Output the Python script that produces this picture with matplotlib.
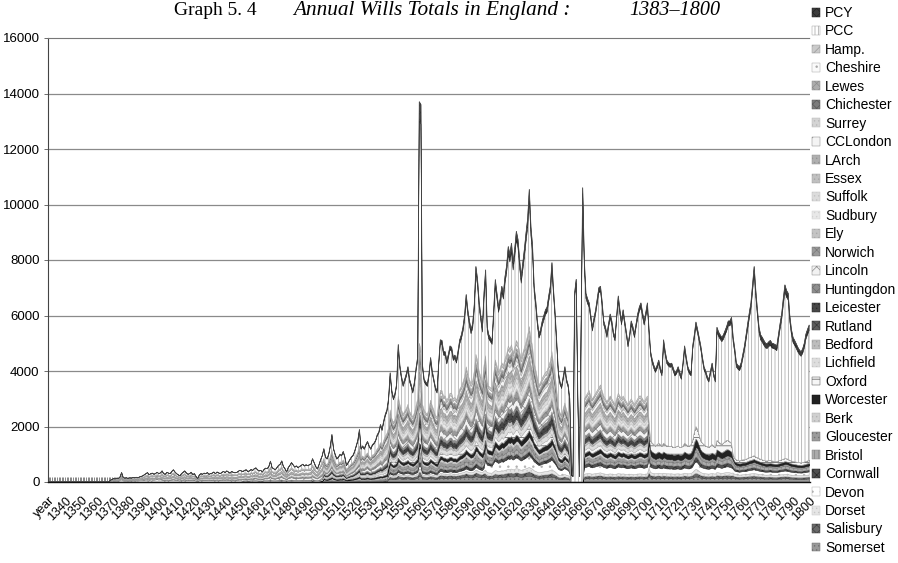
import numpy as np
import matplotlib
matplotlib.use("Agg")
import matplotlib.pyplot as plt

# ---------------- data (read / estimated from the reference) ----------------
YEARS = list(range(1331, 1801))
CATEGORIES = ["year"] + [str(y) for y in YEARS]

# Annual total of wills (top of the stack), 1331-1800, ten years per row
TOTAL = [
    0, 0, 0, 0, 0, 0, 0, 0, 0, 0,
    0, 0, 0, 0, 0, 0, 0, 0, 0, 0,
    0, 0, 0, 0, 0, 0, 0, 0, 0, 0,
    0, 0, 0, 0, 0, 0, 0, 60, 90, 120,
    110, 140, 120, 180, 340, 160, 140, 150, 130, 150,
    140, 160, 150, 170, 150, 180, 200, 220, 260, 300,
    340, 260, 300, 320, 280, 310, 350, 300, 330, 400,
    300, 280, 350, 320, 300, 380, 440, 360, 300, 260,
    220, 300, 350, 400, 330, 280, 300, 350, 270, 300,
    200, 120, 250, 300, 280, 320, 300, 340, 280, 300,
    320, 360, 300, 360, 330, 300, 350, 380, 340, 400,
    360, 320, 380, 350, 340, 340, 380, 420, 400, 380,
    420, 440, 380, 400, 450, 420, 480, 510, 440, 400,
    420, 360, 450, 500, 480, 560, 750, 520, 480, 440,
    520, 600, 640, 760, 560, 480, 360, 520, 600, 700,
    620, 540, 580, 520, 560, 600, 640, 580, 620, 590,
    620, 640, 840, 700, 560, 470, 620, 800, 950, 1200,
    900, 840, 1000, 1300, 1710, 1200, 1000, 840, 900, 1000,
    960, 1100, 900, 600, 700, 800, 900, 960, 1100, 1300,
    1500, 1890, 1200, 1300, 1200, 1350, 1460, 1300, 1200, 1340,
    1400, 1500, 1700, 1800, 2070, 1900, 2200, 2440, 2600, 3000,
    3930, 3300, 3030, 3200, 3530, 4950, 4200, 3800, 3530, 3700,
    3900, 4150, 3700, 3500, 3280, 3600, 4100, 4500, 13700, 13600,
    4200, 3700, 3600, 3530, 3900, 4480, 4000, 3700, 3400, 3280,
    4300, 5120, 5100, 4700, 4690, 4370, 4600, 4900, 4850, 4500,
    4570, 4400, 4730, 5120, 5300, 5570, 6000, 6750, 6200, 5800,
    5500, 5700, 6400, 7760, 7300, 6500, 6000, 5560, 6800, 7640,
    5570, 5300, 5200, 5100, 6200, 7290, 6800, 6300, 6600, 7050,
    6800, 7400, 7800, 8480, 8200, 8600, 7900, 8400, 9030, 8740,
    8000, 7400, 7900, 8400, 8980, 9500, 10540, 9200, 8500, 7050,
    6500, 5800, 5330, 5500, 5800, 6000, 6200, 6300, 6700, 7050,
    7900, 6900, 6050, 5000, 3930, 3600, 3450, 3800, 4150, 3700,
    3500, 3000, 800, 200, 6800, 7300, 3000, 200, 5500, 10600,
    8000, 6800, 6600, 6450, 6000, 5570, 5900, 6200, 6600, 7000,
    7050, 6500, 5800, 5600, 5330, 5700, 6050, 5800, 5400, 5210,
    6000, 6700, 6200, 5800, 6200, 5800, 5400, 4980, 5300, 5800,
    5600, 5330, 5700, 6050, 6300, 6450, 6100, 5800, 6100, 6450,
    5500, 4690, 4400, 4200, 4060, 4200, 4390, 4100, 3930, 5120,
    4700, 4390, 4300, 4250, 4280, 4100, 3930, 4000, 4150, 3950,
    3800, 4300, 4900, 4500, 4150, 4000, 3930, 4900, 5300, 5760,
    5500, 5200, 4900, 4500, 4150, 4000, 3800, 3700, 4000, 4280,
    3900, 3700, 5570, 5400, 5300, 5210, 5300, 5450, 5600, 5800,
    5800, 5930, 5210, 4800, 4280, 4200, 4150, 4300, 4600, 4900,
    5300, 5700, 6100, 6450, 7100, 7760, 6900, 6200, 5570, 5300,
    5210, 5100, 5000, 4980, 5050, 5100, 5000, 4980, 4950, 4900,
    5300, 5700, 6050, 6600, 7100, 6900, 6800, 6000, 5500, 5210,
    5100, 4980, 4850, 4750, 4690, 4800, 5000, 5330, 5500, 5650,
]

# Top of the diocesan-court part of the stack (below PCC / PCY), 1331-1800
DIOCESAN = [
    0, 0, 0, 0, 0, 0, 0, 0, 0, 0,
    0, 0, 0, 0, 0, 0, 0, 0, 0, 0,
    0, 0, 0, 0, 0, 0, 0, 0, 0, 0,
    0, 0, 0, 0, 0, 0, 0, 50, 75, 100,
    90, 110, 100, 140, 260, 130, 110, 120, 100, 120,
    110, 130, 120, 135, 120, 140, 160, 170, 200, 230,
    260, 200, 230, 250, 220, 240, 270, 230, 250, 300,
    230, 220, 270, 250, 230, 290, 330, 280, 230, 200,
    170, 230, 270, 300, 250, 220, 230, 270, 210, 230,
    160, 100, 190, 230, 220, 250, 230, 260, 220, 230,
    250, 280, 230, 280, 250, 230, 270, 290, 260, 300,
    280, 250, 290, 270, 260, 260, 290, 320, 300, 290,
    320, 330, 290, 300, 340, 320, 360, 380, 330, 300,
    320, 280, 340, 380, 360, 420, 540, 390, 360, 330,
    390, 450, 480, 560, 420, 360, 280, 390, 450, 520,
    470, 410, 440, 400, 420, 450, 480, 440, 470, 450,
    470, 480, 620, 520, 420, 360, 470, 600, 700, 850,
    660, 620, 740, 920, 1150, 860, 730, 620, 660, 730,
    700, 800, 660, 450, 520, 590, 660, 700, 800, 940,
    1080, 1300, 870, 940, 870, 980, 1050, 940, 870, 970,
    1000, 1080, 1200, 1270, 1420, 1320, 1500, 1650, 1750, 1950,
    2600, 2300, 2150, 2250, 2450, 3100, 2800, 2600, 2450, 2550,
    2650, 2800, 2550, 2450, 2350, 2500, 2750, 3000, 5000, 4800,
    2800, 2600, 2500, 2450, 2650, 2950, 2750, 2600, 2400, 2350,
    2900, 3300, 3300, 3100, 3100, 2950, 3050, 3200, 3200, 3000,
    3050, 2950, 3150, 3350, 3450, 3600, 3800, 4150, 3900, 3700,
    3550, 3650, 4000, 4600, 4400, 4000, 3800, 3600, 4200, 4550,
    3600, 3450, 3400, 3350, 3900, 4400, 4200, 3950, 4100, 4300,
    4200, 4450, 4600, 4900, 4800, 4950, 4650, 4850, 5100, 5000,
    4700, 4450, 4650, 4850, 5050, 5300, 5600, 5200, 4900, 4300,
    4050, 3750, 3500, 3600, 3750, 3850, 3950, 4000, 4200, 4350,
    4700, 4250, 3850, 3300, 2700, 2500, 2400, 2650, 2850, 2600,
    2450, 2000, 550, 0, 0, 0, 0, 0, 0, 0,
    3000, 3100, 3200, 3300, 3100, 3000, 3100, 3200, 3300, 3400,
    3500, 3300, 3100, 3000, 2900, 3000, 3100, 3000, 2900, 2800,
    3000, 3200, 3100, 3000, 3100, 3000, 2900, 2800, 2900, 3000,
    2900, 2800, 2900, 3000, 3100, 3100, 3000, 2900, 3000, 3100,
    2200, 1500, 1400, 1350, 1300, 1350, 1400, 1350, 1300, 1400,
    1350, 1300, 1300, 1280, 1300, 1250, 1250, 1280, 1300, 1250,
    1250, 1300, 1400, 1350, 1300, 1300, 1350, 1500, 1800, 2000,
    1900, 1700, 1500, 1400, 1350, 1300, 1280, 1250, 1300, 1350,
    1300, 1250, 1500, 1450, 1400, 1350, 1400, 1450, 1500, 1500,
    1450, 1400, 1000, 850, 800, 780, 760, 780, 800, 800,
    820, 850, 880, 900, 920, 950, 900, 880, 850, 820,
    800, 780, 760, 760, 770, 780, 760, 750, 740, 740,
    760, 780, 800, 820, 850, 840, 820, 780, 760, 740,
    730, 720, 700, 700, 690, 700, 720, 740, 760, 780,
]

# Periods used for the estimated split between the courts
PERIOD_START = [1331, 1400, 1450, 1500, 1540, 1600, 1653, 1661, 1701, 1753]

# Relative weight of each diocesan court in each period (bottom -> top of stack)
SOMERSET   = [0, 0, 0, 0, 4, 4, 0, 4, 8, 12]
SALISBURY  = [0, 0, 0, 2, 3, 3, 0, 3, 6, 8]
DORSET     = [0, 0, 0, 0, 2, 3, 0, 3, 6, 8]
DEVON      = [0, 0, 0, 0, 2, 8, 0, 8, 12, 12]
CORNWALL   = [0, 0, 0, 0, 3, 3, 0, 4, 8, 8]
BRISTOL    = [0, 0, 0, 0, 3, 3, 0, 3, 8, 10]
GLOUCESTER = [0, 0, 2, 3, 4, 4, 0, 4, 8, 8]
BERK       = [0, 0, 0, 3, 3, 3, 0, 3, 0, 0]
WORCESTER  = [0, 0, 0, 2, 3, 4, 0, 4, 12, 8]
OXFORD     = [0, 0, 0, 3, 4, 4, 0, 4, 20, 12]
LICHFIELD  = [0, 0, 0, 4, 5, 5, 0, 5, 0, 0]
BEDFORD    = [0, 0, 2, 3, 3, 3, 0, 3, 0, 0]
RUTLAND    = [0, 0, 0, 0, 2, 2, 0, 2, 0, 0]
LEICESTER  = [0, 0, 0, 3, 4, 5, 0, 4, 0, 0]
HUNTINGDON = [0, 0, 0, 2, 3, 3, 0, 3, 0, 0]
LINCOLN    = [4, 4, 5, 6, 6, 6, 0, 6, 0, 0]
NORWICH    = [2, 3, 4, 5, 5, 5, 0, 5, 0, 0]
ELY        = [0, 0, 0, 2, 2, 2, 0, 2, 0, 0]
SUDBURY    = [0, 2, 4, 4, 4, 4, 0, 4, 0, 0]
SUFFOLK    = [0, 0, 0, 4, 4, 4, 0, 4, 0, 0]
ESSEX      = [0, 0, 0, 3, 4, 4, 0, 4, 0, 0]
LARCH      = [2, 3, 4, 4, 4, 4, 0, 4, 0, 0]
CCLONDON   = [3, 4, 6, 5, 5, 5, 0, 5, 0, 0]
SURREY     = [0, 0, 0, 2, 3, 3, 0, 3, 0, 0]
CHICHESTER = [0, 0, 0, 2, 3, 3, 0, 3, 0, 0]
LEWES      = [0, 0, 0, 2, 3, 3, 0, 3, 0, 0]
CHESHIRE   = [0, 0, 0, 0, 3, 3, 0, 3, 0, 0]
HAMP       = [2, 2, 3, 3, 3, 3, 0, 3, 0, 0]
# share of the prerogative part that belongs to PCY (rest is PCC)
PCY_FRAC   = [0.05, 0.05, 0.05, 0.08, 0.08, 0.08, 0.02, 0.05, 0.04, 0.04]

DIOCESES = [
    ("Somerset", SOMERSET), ("Salisbury", SALISBURY), ("Dorset", DORSET),
    ("Devon", DEVON), ("Cornwall", CORNWALL), ("Bristol", BRISTOL),
    ("Gloucester", GLOUCESTER), ("Berk", BERK), ("Worcester", WORCESTER),
    ("Oxford", OXFORD), ("Lichfield", LICHFIELD), ("Bedford", BEDFORD),
    ("Rutland", RUTLAND), ("Leicester", LEICESTER), ("Huntingdon", HUNTINGDON),
    ("Lincoln", LINCOLN), ("Norwich", NORWICH), ("Ely", ELY),
    ("Sudbury", SUDBURY), ("Suffolk", SUFFOLK), ("Essex", ESSEX),
    ("LArch", LARCH), ("CCLondon", CCLONDON), ("Surrey", SURREY),
    ("Chichester", CHICHESTER), ("Lewes", LEWES), ("Cheshire", CHESHIRE),
    ("Hamp.", HAMP),
]

# facecolor, hatch, hatch/edge colour
STYLE = {
    "Somerset":   ("#9a9a9a", "....", "#707070"),
    "Salisbury":  ("#6a6a6a", "xxxx", "#404040"),
    "Dorset":     ("#e6e6e6", "....", "#c8c8c8"),
    "Devon":      ("#ffffff", "..",   "#b0b0b0"),
    "Cornwall":   ("#505050", "xxxx", "#2a2a2a"),
    "Bristol":    ("#ababab", "||||", "#858585"),
    "Gloucester": ("#9c9c9c", "....", "#747474"),
    "Berk":       ("#d0d0d0", "....", "#b4b4b4"),
    "Worcester":  ("#222222", "",     "#111111"),
    "Oxford":     ("#f6f6f6", "--",   "#505050"),
    "Lichfield":  ("#dedede", "....", "#c6c6c6"),
    "Bedford":    ("#bdbdbd", "....", "#a0a0a0"),
    "Rutland":    ("#5c5c5c", "xxxx", "#3a3a3a"),
    "Leicester":  ("#474747", "....", "#2c2c2c"),
    "Huntingdon": ("#8e8e8e", "xxxx", "#6e6e6e"),
    "Lincoln":    ("#f2f2f2", "xx",   "#8a8a8a"),
    "Norwich":    ("#9a9a9a", "xxxx", "#7a7a7a"),
    "Ely":        ("#c4c4c4", "....", "#aaaaaa"),
    "Sudbury":    ("#e8e8e8", "....", "#d2d2d2"),
    "Suffolk":    ("#dcdcdc", "....", "#c4c4c4"),
    "Essex":      ("#c0c0c0", "....", "#a6a6a6"),
    "LArch":      ("#b0b0b0", "....", "#949494"),
    "CCLondon":   ("#f4f4f4", "//",   "#8a8a8a"),
    "Surrey":     ("#d4d4d4", "....", "#bababa"),
    "Chichester": ("#7c7c7c", "xxxx", "#5a5a5a"),
    "Lewes":      ("#acacac", "xxxx", "#8c8c8c"),
    "Cheshire":   ("#fafafa", "..",   "#a8a8a8"),
    "Hamp.":      ("#cacaca", "////", "#9a9a9a"),
    "PCC":        ("#ffffff", "|||||", "#a2a2a2"),
    "PCY":        ("#3c3c3c", "xxxx", "#222222"),
}

# ---------------- build the stack ----------------
x = np.arange(len(CATEGORIES))
total = np.array([0] + TOTAL, dtype=float)
dioc = np.array([0] + DIOCESAN, dtype=float)
yrs = np.array([YEARS[0]] + YEARS)
pidx = np.searchsorted(PERIOD_START, yrs, side="right") - 1

W = np.array([w for _, w in DIOCESES], dtype=float)          # (28, nper)
wsum = W.sum(axis=0)
wsum[wsum == 0] = 1.0
shares = W / wsum
series = [dioc * shares[k, pidx] for k in range(len(DIOCESES))]
upper = np.clip(total - dioc, 0, None)
pcy = upper * np.array(PCY_FRAC)[pidx]
pcc = upper - pcy
names = [n for n, _ in DIOCESES] + ["PCC", "PCY"]
series += [pcc, pcy]

# ---------------- draw ----------------
plt.rcParams["hatch.linewidth"] = 0.5
fig = plt.figure(figsize=(8.98, 5.63), dpi=100)
ax = fig.add_axes([48 / 898, 1 - 482 / 563, (810 - 48) / 898, (482 - 38) / 563])

for lvl in range(2000, 16000, 2000):
    ax.axhline(lvl, color="#8a8a8a", lw=0.9, zorder=0.5)

polys = ax.stackplot(x, *series, colors=[STYLE[n][0] for n in names],
                     linewidth=0.35, zorder=2)
for poly, n in zip(polys, names):
    fc, hatch, ec = STYLE[n]
    poly.set_edgecolor(ec)
    if hatch:
        poly.set_hatch(hatch)

ax.plot(x, total, color="#4a4a4a", lw=0.6, zorder=3)

ax.set_xlim(-0.5, len(CATEGORIES) - 0.5)
ax.set_ylim(0, 16000)
ax.set_yticks(range(0, 16001, 2000))
ax.set_yticklabels([str(v) for v in range(0, 16001, 2000)],
                   fontsize=9.5, family="Liberation Sans")
major = list(range(0, len(CATEGORIES), 10))
ax.set_xticks(major)
ax.set_xticklabels([CATEGORIES[i] for i in major], rotation=45, ha="right",
                   va="top", rotation_mode="anchor", fontsize=9,
                   family="Liberation Sans")
ax.set_xticks(x, minor=True)
ax.tick_params(axis="x", which="both", direction="in", length=3.5,
               width=0.5, color="#555555", pad=9)
ax.tick_params(axis="y", length=3, width=0.6, color="#555555", pad=3)

ax.spines["right"].set_visible(False)
ax.spines["top"].set_linestyle((0, (1, 1)))
ax.spines["top"].set_color("#777777")
ax.spines["left"].set_color("#444444")
ax.spines["left"].set_linewidth(0.8)
ax.spines["bottom"].set_color("#111111")
ax.spines["bottom"].set_linewidth(1.0)

leg = fig.legend(polys[::-1], names[::-1], loc="upper left",
                 bbox_to_anchor=(812 / 898, 1 - 6 / 563), frameon=False,
                 prop={"family": "Liberation Sans", "size": 10},
                 handlelength=0.6, handleheight=0.6, handletextpad=0.35,
                 labelspacing=0.32, borderaxespad=0, borderpad=0)

fig.text(174 / 898, 1 - 15 / 563, "Graph 5. 4", ha="left", va="baseline",
         fontsize=14, family="Liberation Serif")
fig.text(293 / 898, 1 - 15 / 563, "Annual Wills Totals in England :",
         ha="left", va="baseline", fontsize=15.3, family="Liberation Serif",
         style="italic")
fig.text(629 / 898, 1 - 15 / 563, "1383\u20131800",
         ha="left", va="baseline", fontsize=14.5, family="Liberation Serif",
         style="italic")

fig.savefig("out.png", dpi=100)
